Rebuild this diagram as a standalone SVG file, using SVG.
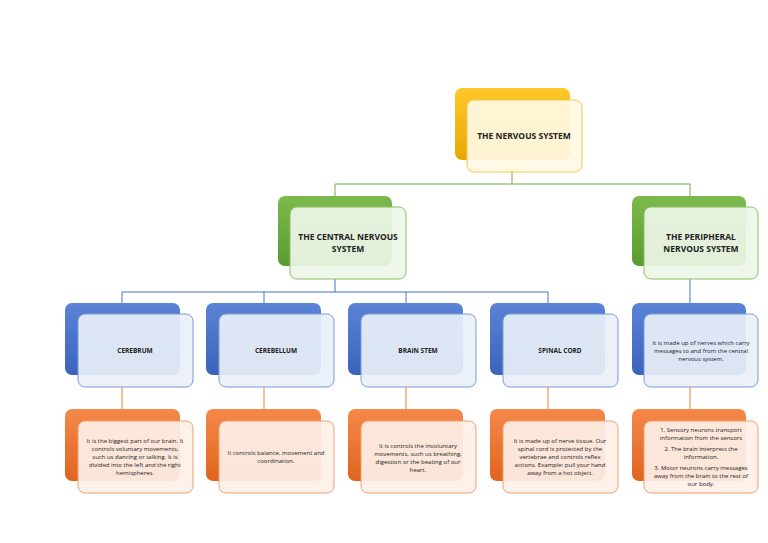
<svg xmlns="http://www.w3.org/2000/svg" width="768" height="543" viewBox="0 0 768 543">
<defs>
<linearGradient id="gy" x1="0" y1="0" x2="0" y2="1"><stop offset="0" stop-color="#ffc72c"/><stop offset="1" stop-color="#e8a800"/></linearGradient>
<linearGradient id="gg" x1="0" y1="0" x2="0" y2="1"><stop offset="0" stop-color="#7dba4e"/><stop offset="1" stop-color="#5a9a2e"/></linearGradient>
<linearGradient id="gb" x1="0" y1="0" x2="0" y2="1"><stop offset="0" stop-color="#5b84d6"/><stop offset="1" stop-color="#3a63bb"/></linearGradient>
<linearGradient id="go" x1="0" y1="0" x2="0" y2="1"><stop offset="0" stop-color="#f5884a"/><stop offset="1" stop-color="#e0651f"/></linearGradient>
</defs>
<style>
text{font-family:"Open Sans","Liberation Sans",sans-serif;text-anchor:middle;fill:#222}
.h{font-size:8.5px;font-weight:bold}
.s{font-size:6.5px;font-weight:bold}
.t{font-size:6px}
.fy{fill:#fff8e4;fill-opacity:.92;stroke:#f2c94c;stroke-width:1}
.fg{fill:#eef6e8;fill-opacity:.92;stroke:#8cc063;stroke-width:1}
.fb{fill:#eaf0f9;fill-opacity:.92;stroke:#7b9bd8;stroke-width:1}
.fo{fill:#fdf0e8;fill-opacity:.92;stroke:#f0a070;stroke-width:1}
.c{fill:none;stroke-width:1}
</style>
<rect width="768" height="543" fill="#fff"/>
<g id="connectors">
<path class="c" stroke="#70ad47" d="M512 172V184M335 184H690M335 184V196M690 184V196"/>
<path class="c" stroke="#4472c4" d="M335 279V292M122 292H548M122 292V303M264 292V303M406 292V303M548 292V303M690 279V303"/>
<path class="c" stroke="#ed7d31" d="M122 387V409M264 387V409M406 387V409M548 387V409M690 387V409"/>
</g>
<g id="root"><rect x="455" y="88" width="115" height="72" rx="7" fill="url(#gy)"/><rect class="fy" x="467" y="100" width="115" height="72" rx="7"/><text class="h" x="524" y="139">THE NERVOUS SYSTEM</text></g>
<g id="cns"><rect x="278" y="196" width="114" height="70" rx="7" fill="url(#gg)"/><rect class="fg" x="290" y="207" width="116" height="72" rx="7"/><text class="h" x="348" y="240">THE CENTRAL NERVOUS</text><text class="h" x="348" y="252">SYSTEM</text></g>
<g id="pns"><rect x="632" y="196" width="114" height="70" rx="7" fill="url(#gg)"/><rect class="fg" x="644" y="207" width="114" height="72" rx="7"/><text class="h" x="701" y="240">THE PERIPHERAL</text><text class="h" x="701" y="252">NERVOUS SYSTEM</text></g>
<g id="cerebrum"><rect x="65" y="303" width="115" height="72" rx="7" fill="url(#gb)"/><rect class="fb" x="78" y="314" width="115" height="73" rx="7"/><text class="s" x="135" y="353">CEREBRUM</text></g>
<g id="cerebellum"><rect x="206" y="303" width="115" height="72" rx="7" fill="url(#gb)"/><rect class="fb" x="219" y="314" width="115" height="73" rx="7"/><text class="s" x="276" y="353">CEREBELLUM</text></g>
<g id="brainstem"><rect x="348" y="303" width="115" height="72" rx="7" fill="url(#gb)"/><rect class="fb" x="361" y="314" width="115" height="73" rx="7"/><text class="s" x="418" y="353">BRAIN STEM</text></g>
<g id="spinalcord"><rect x="490" y="303" width="115" height="72" rx="7" fill="url(#gb)"/><rect class="fb" x="503" y="314" width="115" height="73" rx="7"/><text class="s" x="560" y="353">SPINAL CORD</text></g>
<g id="nerves"><rect x="632" y="303" width="114" height="72" rx="7" fill="url(#gb)"/><rect class="fb" x="644" y="314" width="114" height="73" rx="7"/><text class="t" x="701" y="345">It is made up of nerves which carry</text><text class="t" x="701" y="353">messages to and from the central</text><text class="t" x="701" y="361">nervous system.</text></g>
<g id="d1"><rect x="65" y="409" width="115" height="72" rx="7" fill="url(#go)"/><rect class="fo" x="78" y="421" width="115" height="72" rx="7"/><text class="t" x="135" y="443">It is the biggest part of our brain. It</text><text class="t" x="135" y="451">controls voluntary movements,</text><text class="t" x="135" y="459">such us dancing or talking. It is</text><text class="t" x="135" y="467">divided into the left and the right</text><text class="t" x="135" y="475">hemispheres.</text></g>
<g id="d2"><rect x="206" y="409" width="115" height="72" rx="7" fill="url(#go)"/><rect class="fo" x="219" y="421" width="115" height="72" rx="7"/><text class="t" x="276" y="455">It controls balance, movement and</text><text class="t" x="276" y="463">coordination.</text></g>
<g id="d3"><rect x="348" y="409" width="115" height="72" rx="7" fill="url(#go)"/><rect class="fo" x="361" y="421" width="115" height="72" rx="7"/><text class="t" x="418" y="448">It is controls the involuntary</text><text class="t" x="418" y="456">movements, such us breathing,</text><text class="t" x="418" y="464">digestion or the beating of our</text><text class="t" x="418" y="472">heart.</text></g>
<g id="d4"><rect x="490" y="409" width="115" height="72" rx="7" fill="url(#go)"/><rect class="fo" x="503" y="421" width="115" height="72" rx="7"/><text class="t" x="560" y="443">It is made up of nerve tissue. Our</text><text class="t" x="560" y="451">spinal cord is protected by the</text><text class="t" x="560" y="459">vertebrae and controls reflex</text><text class="t" x="560" y="467">actions. Example: pull your hand</text><text class="t" x="560" y="475">away from a hot object.</text></g>
<g id="d5"><rect x="632" y="409" width="114" height="72" rx="7" fill="url(#go)"/><rect class="fo" x="644" y="421" width="114" height="72" rx="7"/><text class="t" x="701" y="432">1. Sensory neurons transport</text><text class="t" x="701" y="440">information from the sensors</text><text class="t" x="701" y="451">2. The brain interprets the</text><text class="t" x="701" y="459">information.</text><text class="t" x="701" y="470">3. Motor neurons carry messages</text><text class="t" x="701" y="478">away from the brain to the rest of</text><text class="t" x="701" y="486">our body.</text></g>
</svg>
